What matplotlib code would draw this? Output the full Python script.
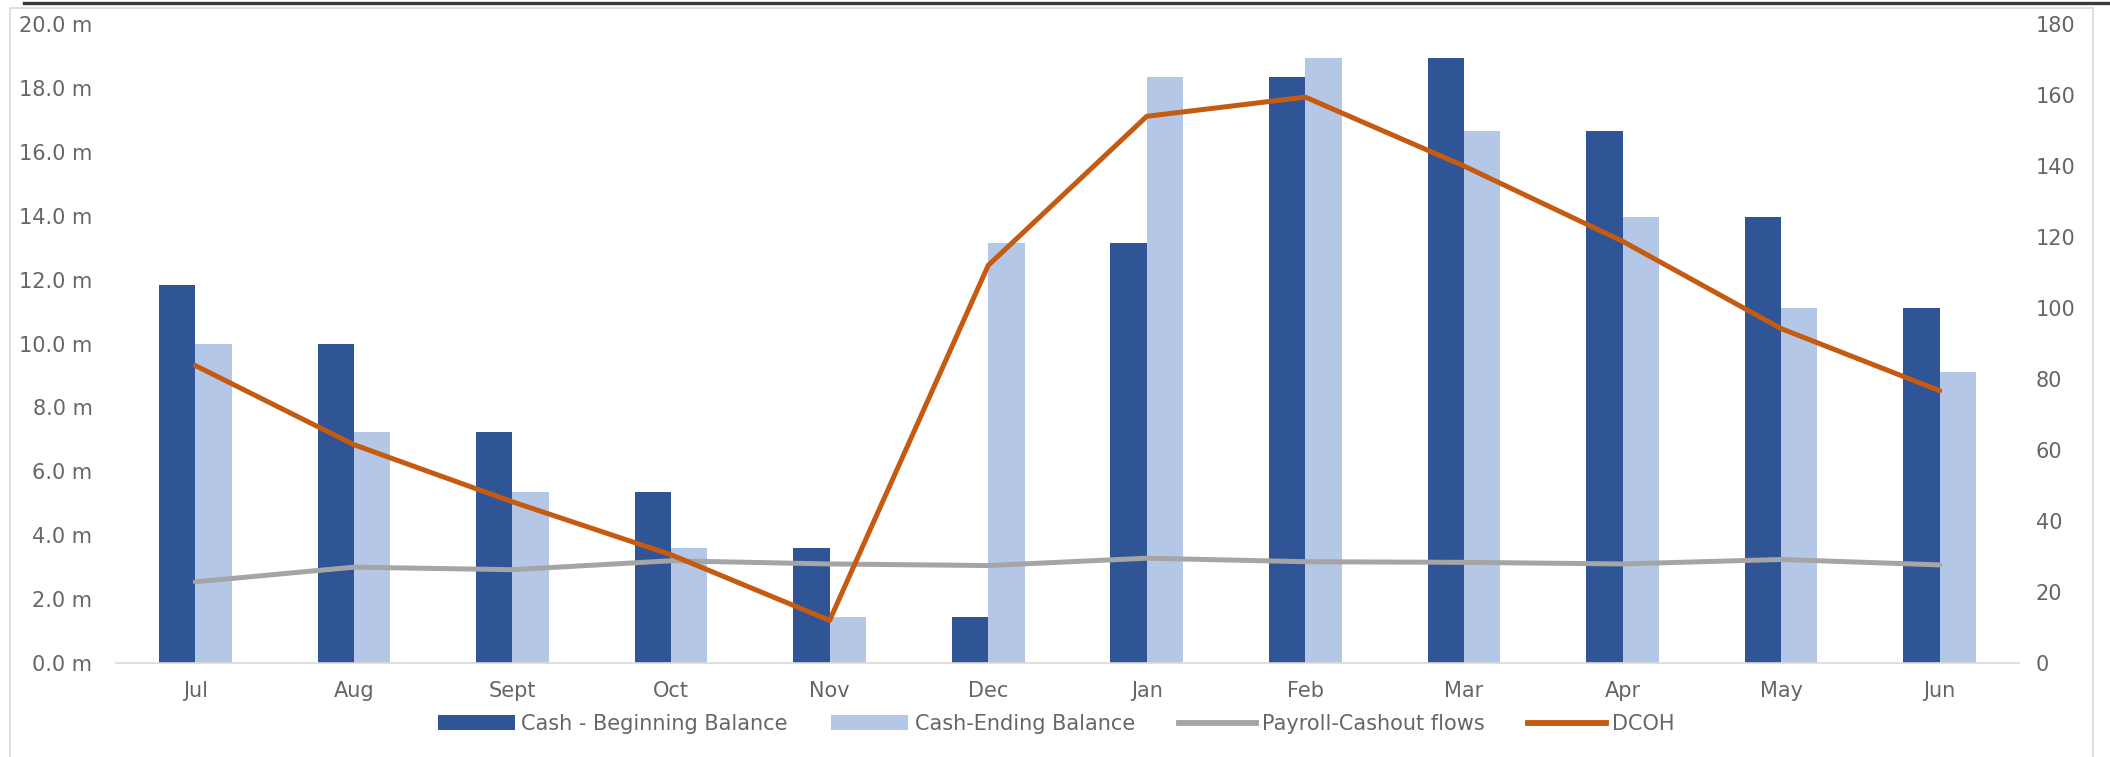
import matplotlib
matplotlib.use("Agg")
import matplotlib.pyplot as plt
import numpy as np
from matplotlib.lines import Line2D
from matplotlib.patches import Rectangle, Patch
from matplotlib.ticker import FuncFormatter, MultipleLocator

months = ["Jul", "Aug", "Sept", "Oct", "Nov", "Dec", "Jan", "Feb", "Mar", "Apr", "May", "Jun"]
begin_balance = [11.82, 10.0, 7.24, 5.36, 3.6, 1.44, 13.15, 18.35, 18.95, 16.65, 13.95, 11.1]
end_balance = [10.0, 7.24, 5.36, 3.6, 1.44, 13.15, 18.35, 18.95, 16.65, 13.95, 11.1, 9.1]
payroll = [2.54, 3.0, 2.92, 3.2, 3.1, 3.05, 3.28, 3.17, 3.15, 3.1, 3.24, 3.07]
dcoh = [83.8, 61.5, 45.4, 30.5, 12.0, 112.0, 154.0, 159.4, 140.0, 118.8, 94.2, 76.7]

C_DARK = "#2F5597"
C_LIGHT = "#B4C7E7"
C_GRAY = "#A5A5A5"
C_ORANGE = "#C55A11"
C_TEXT = "#666666"

plt.rcParams['font.family'] = ['DejaVu Sans']
FS = 15

W, H = 2110, 757
fig = plt.figure(figsize=(W / 100, H / 100), dpi=100)
ax = fig.add_axes([116 / W, 1 - 663 / H, (2019 - 116) / W, (663 - 24) / H])
ax2 = ax.twinx()

x = np.arange(len(months))
bw = 0.229
ax.bar(x - bw / 2, begin_balance, bw, color=C_DARK, zorder=2)
ax.bar(x + bw / 2, end_balance, bw, color=C_LIGHT, zorder=2)
ax.plot(x, payroll, color=C_GRAY, lw=3.6, zorder=3, solid_capstyle='round')
ax2.plot(x, dcoh, color=C_ORANGE, lw=3.6, zorder=3, solid_capstyle='round')

ax.set_xlim(-0.5, len(months) - 0.5)
ax.set_ylim(0, 20)
ax2.set_ylim(0, 180)
ax.yaxis.set_major_locator(MultipleLocator(2))
ax.yaxis.set_major_formatter(FuncFormatter(lambda v, p: f"{v:.1f} m"))
ax2.yaxis.set_major_locator(MultipleLocator(20))

ax.set_xticks(x)
ax.set_xticklabels(months)

for a in (ax, ax2):
    for s in a.spines.values():
        s.set_visible(False)
    a.set_facecolor('none')
ax.spines['bottom'].set_visible(True)
ax.spines['bottom'].set_color('#D9D9D9')
ax.spines['bottom'].set_linewidth(1.2)

ax.tick_params(axis='y', length=0, pad=17, labelsize=FS, labelcolor=C_TEXT)
ax.tick_params(axis='x', length=0, pad=13, labelsize=FS, labelcolor=C_TEXT)
ax2.tick_params(axis='y', length=0, pad=12, labelsize=FS, labelcolor=C_TEXT)

handles = [
    Patch(facecolor=C_DARK, edgecolor='none'),
    Patch(facecolor=C_LIGHT, edgecolor='none'),
    Line2D([0], [0], color=C_GRAY, lw=4.2),
    Line2D([0], [0], color=C_ORANGE, lw=4.2),
]
labels = ["Cash - Beginning Balance", "Cash-Ending Balance", "Payroll-Cashout flows", "DCOH"]
leg = fig.legend(handles, labels, loc='center', bbox_to_anchor=(1056 / W, 1 - 724 / H),
                 ncol=4, frameon=False, fontsize=FS, handlelength=3.7, handleheight=0.7,
                 handletextpad=0.3, columnspacing=2.1, borderaxespad=0)
for t in leg.get_texts():
    t.set_color(C_TEXT)

# chart border and top dark rule
fig.add_artist(Rectangle((10 / W, -0.01), (2093 - 10) / W, 1 - 8 / H + 0.01,
                         transform=fig.transFigure, fill=False, edgecolor='#D9D9D9', lw=1.2))
fig.add_artist(Line2D([24 / W, 1.0], [1 - 3 / H, 1 - 3 / H], transform=fig.transFigure,
                      color='#3A3A3A', lw=2.4))

fig.savefig("out.png", dpi=100)
